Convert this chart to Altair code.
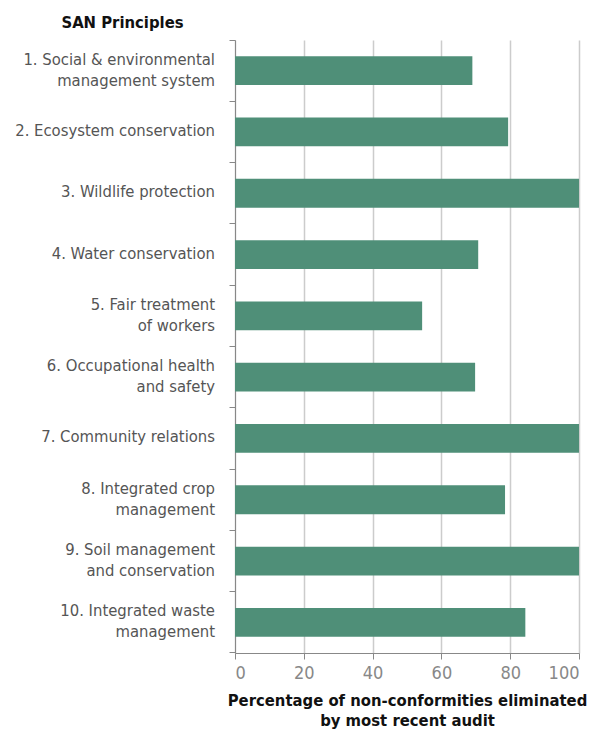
import altair as alt
import pandas as pd

principles = [
    "1. Social & environmental|management system",
    "2. Ecosystem conservation",
    "3. Wildlife protection",
    "4. Water conservation",
    "5. Fair treatment|of workers",
    "6. Occupational health|and safety",
    "7. Community relations",
    "8. Integrated crop|management",
    "9. Soil management|and conservation",
    "10. Integrated waste|management",
]
values = [69, 79.4, 100, 70.7, 54.4, 69.8, 100, 78.5, 100, 84.4]
x_ticks = [0, 20, 40, 60, 80, 100]

df = pd.DataFrame({"principle": principles, "value": values})

FONT = "DejaVu Sans Condensed, Roboto, sans-serif"

y_enc = alt.Y(
    "principle:N",
    sort=principles,
    scale=alt.Scale(paddingInner=0, paddingOuter=0),
    axis=alt.Axis(
        bandPosition=1,
        tickExtra=True,
        domainColor="#888888",
        tickColor="#888888",
        tickSize=6,
        labels=False,
        title="SAN Principles",
        titleAngle=0,
        titleAlign="center",
        titleBaseline="alphabetic",
        titleX=-113,
        titleY=-13,
        titleFont=FONT,
        titleFontSize=16.5,
        titleFontWeight="bold",
        titleColor="#111111",
    ),
)

base = alt.Chart(df)

bars = base.mark_bar(color="#4f8f78", height=alt.RelativeBandSize(band=0.47)).encode(
    x=alt.X(
        "value:Q",
        scale=alt.Scale(domain=[0, 100], nice=False),
        axis=alt.Axis(
            values=x_ticks,
            title=["Percentage of non-conformities eliminated", "by most recent audit"],
            grid=True,
            gridColor="#cccccc",
            gridWidth=1.5,
            domainColor="#888888",
            tickColor="#888888",
            tickSize=6,
            labelFont=FONT,
            labelFontSize=18,
            labelColor="#888888",
            labelPadding=5,
            titleFont=FONT,
            titleFontSize=16.5,
            titleFontWeight="bold",
            titleColor="#111111",
            titleLineHeight=20,
            titlePadding=10,
        ),
    ),
    y=y_enc,
)

text_style = dict(
    align="right",
    baseline="middle",
    lineBreak="|",
    lineHeight=21,
    font=FONT,
    fontSize=16.5,
    color="#555555",
)

single = (
    base.transform_filter("indexof(datum.principle, '|') < 0")
    .mark_text(dy=-1, **text_style)
    .encode(y=alt.Y("principle:N", sort=principles), x=alt.value(-20), text="principle:N")
)

double = (
    base.transform_filter("indexof(datum.principle, '|') >= 0")
    .mark_text(dy=-11, **text_style)
    .encode(y=alt.Y("principle:N", sort=principles), x=alt.value(-20), text="principle:N")
)

chart = (
    alt.layer(bars, single, double)
    .properties(
        width=344,
        height=613,
        autosize=alt.AutoSizeParams(type="none"),
        padding={"left": 235, "top": 40, "right": 13, "bottom": 81},
    )
    .configure_view(stroke=None)
)

chart.save("out.html", embed_options={"renderer": "svg", "actions": False})
